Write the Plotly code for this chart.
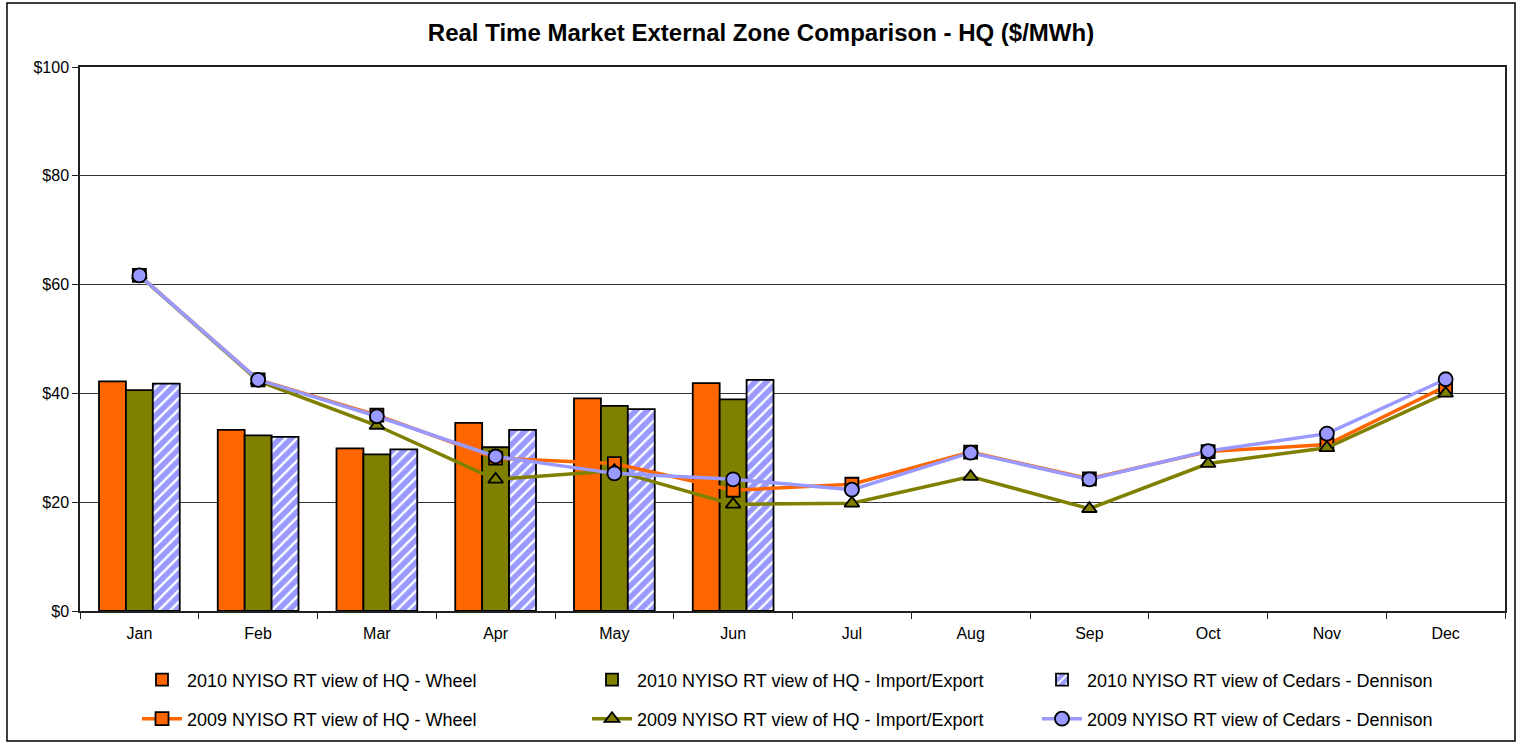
import plotly.graph_objects as go

months = ["Jan", "Feb", "Mar", "Apr", "May", "Jun", "Jul", "Aug", "Sep", "Oct", "Nov", "Dec"]
months_2010 = months[:6]

hq_wheel_2010 = [42.2, 33.3, 29.9, 34.6, 39.1, 41.9]
hq_impexp_2010 = [40.6, 32.3, 28.8, 30.1, 37.7, 38.9]
cedars_2010 = [41.8, 32.0, 29.7, 33.3, 37.1, 42.5]

hq_wheel_2009 = [61.7, 42.5, 36.0, 28.1, 27.1, 22.2, 23.3, 29.2, 24.3, 29.3, 30.6, 41.3]
hq_impexp_2009 = [61.7, 42.3, 34.1, 24.2, 25.8, 19.6, 19.8, 24.7, 18.8, 27.1, 30.0, 40.0]
cedars_2009 = [61.7, 42.5, 35.8, 28.4, 25.3, 24.2, 22.3, 29.1, 24.2, 29.4, 32.6, 42.6]

y_ticks = [0, 20, 40, 60, 80, 100]
y_ticktext = ["$0", "$20", "$40", "$60", "$80", "$100"]

ORANGE = "#FF6600"
OLIVE = "#808000"
BLUE = "#9999FF"
FONT = "Liberation Sans, Arial, sans-serif"

fig = go.Figure()
fig.add_trace(go.Bar(x=months_2010, y=hq_wheel_2010, name="2010 NYISO RT view of HQ - Wheel",
                     legend="legend",
                     marker=dict(color=ORANGE, line=dict(color="black", width=1.8))))
fig.add_trace(go.Bar(x=months_2010, y=hq_impexp_2010, name="2010 NYISO RT view of HQ - Import/Export",
                     legend="legend",
                     marker=dict(color=OLIVE, line=dict(color="black", width=1.8))))
fig.add_trace(go.Bar(x=months_2010, y=cedars_2010, name="2010 NYISO RT view of Cedars - Dennison",
                     legend="legend",
                     marker=dict(color=BLUE, line=dict(color="black", width=1.8),
                                 pattern=dict(shape="/", fgcolor="white", bgcolor=BLUE,
                                              fillmode="overlay", size=8, solidity=0.3, fgopacity=1))))
fig.add_trace(go.Scatter(x=months, y=hq_wheel_2009, name="2009 NYISO RT view of HQ - Wheel",
                         legend="legend2",
                         mode="lines+markers", line=dict(color=ORANGE, width=3.5),
                         marker=dict(symbol="square", size=13, color=ORANGE, line=dict(color="black", width=1.8))))
fig.add_trace(go.Scatter(x=months, y=hq_impexp_2009, name="2009 NYISO RT view of HQ - Import/Export",
                         legend="legend2",
                         mode="lines+markers", line=dict(color=OLIVE, width=3.5),
                         marker=dict(symbol="triangle-up", size=13, color=OLIVE, line=dict(color="black", width=1.8))))
fig.add_trace(go.Scatter(x=months, y=cedars_2009, name="2009 NYISO RT view of Cedars - Dennison",
                         legend="legend2",
                         mode="lines+markers", line=dict(color=BLUE, width=3.5),
                         marker=dict(symbol="circle", size=14, color=BLUE, line=dict(color="black", width=1.8))))

W, H = 1522, 744
L, R, T, B = 80, 17, 67, 133
pw, ph = W - L - R, H - T - B

legend_common = dict(orientation="h", x=(137 - L) / pw, xanchor="left", yanchor="middle",
                     font=dict(family=FONT, size=18, color="black"),
                     entrywidth=395, entrywidthmode="pixels", tracegroupgap=0,
                     itemwidth=40, bgcolor="rgba(0,0,0,0)")

fig.update_layout(
    width=W, height=H,
    margin=dict(l=L, r=R, t=T, b=B, autoexpand=False),
    paper_bgcolor="white", plot_bgcolor="white",
    font=dict(family=FONT, color="black", size=15),
    title=dict(text="<b>Real Time Market External Zone Comparison - HQ ($/MWh)</b>",
               x=0.5, xref="container", xanchor="center",
               y=1 - 33 / H, yref="container", yanchor="middle",
               font=dict(family=FONT, size=24, color="black")),
    barmode="group", bargap=0.32, bargroupgap=0,
    showlegend=True,
    legend=dict(legend_common, y=-(680 - 611) / ph),
    legend2=dict(legend_common, y=-(719 - 611) / ph),
    xaxis=dict(type="category", categoryorder="array", categoryarray=months,
               range=[-0.5, 11.5], showline=True, linecolor="#202020", linewidth=1.5, mirror=True,
               ticks="outside", tickson="boundaries", ticklen=6, tickcolor="#202020",
               ticklabelstandoff=7,
               showgrid=False, tickfont=dict(family=FONT, size=16, color="black")),
    yaxis=dict(range=[0, 100], tickmode="array", tickvals=y_ticks, ticktext=y_ticktext,
               showline=True, linecolor="#202020", linewidth=1.5, mirror=True,
               ticks="outside", ticklen=6, tickcolor="#202020",
               showgrid=True, gridcolor="#333333", gridwidth=1, zeroline=False,
               tickfont=dict(family=FONT, size=16, color="black")),
)

fig.add_shape(type="rect", xref="paper", yref="paper",
              x0=(7 - L) / pw, x1=(1515 - L) / pw,
              y0=-(741 - 611) / ph, y1=(611 - 3) / ph,
              line=dict(color="black", width=1.5), fillcolor="rgba(0,0,0,0)", layer="below")

fig.write_html("out.html", config={"displayModeBar": False},
               post_script="document.body.style.margin='0';document.body.style.overflow='hidden';")
